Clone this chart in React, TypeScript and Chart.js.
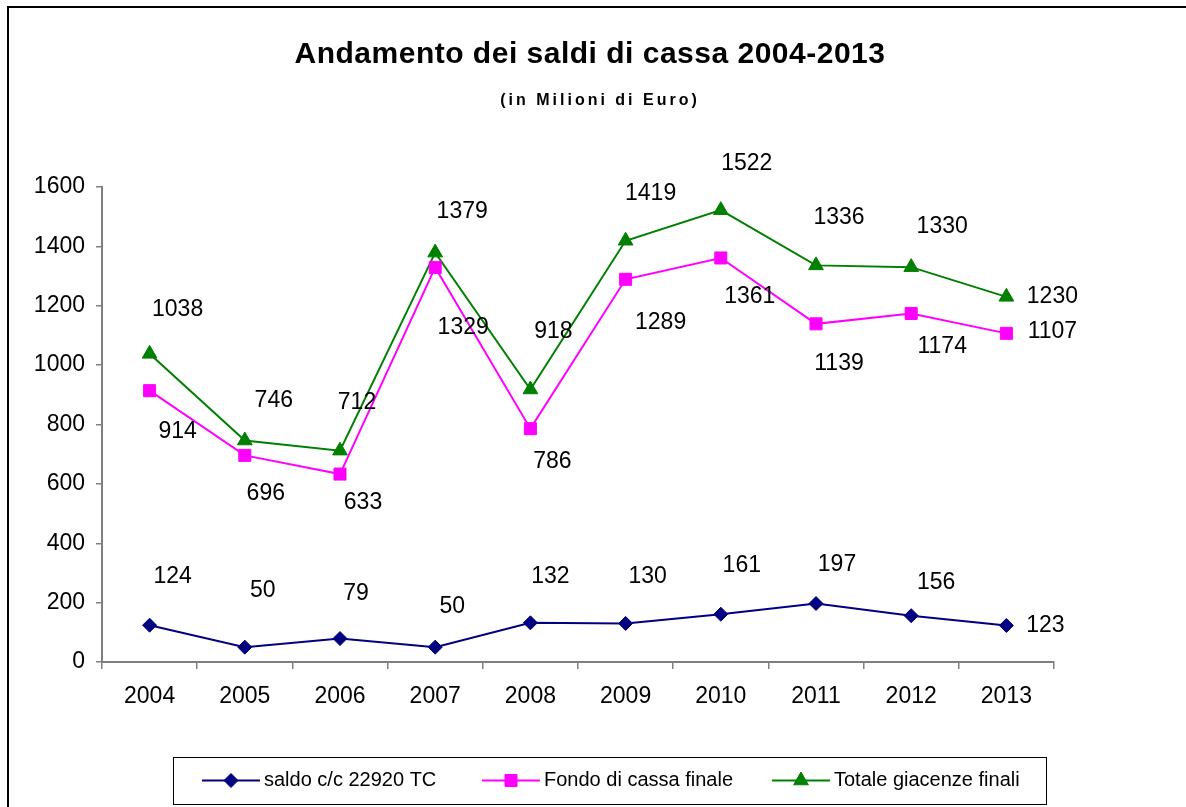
import React, { useEffect, useRef } from "react";
import { Chart, registerables } from "chart.js";

Chart.register(...registerables);

// ---------- data ----------
const years = ["2004", "2005", "2006", "2007", "2008", "2009", "2010", "2011", "2012", "2013"];
const saldoCC = [124, 50, 79, 50, 132, 130, 161, 197, 156, 123];
const fondoCassa = [914, 696, 633, 1329, 786, 1289, 1361, 1139, 1174, 1107];
const totaleGiacenze = [1038, 746, 712, 1379, 918, 1419, 1522, 1336, 1330, 1230];
const seriesNames = ["saldo c/c 22920 TC", "Fondo di cassa finale", "Totale giacenze finali"];
const yMin = 0;
const yMax = 1600;
const yStep = 200;

const titleText = "Andamento dei saldi di cassa 2004-2013";
const subtitleText = "(in Milioni di Euro)";

// ---------- styling ----------
const FONT = '"Liberation Sans", Arial, sans-serif';
const colors = ["#000080", "#FF00FF", "#008000"];
const pointStyles = ["rectRot", "rect", "triangle"];
const pointRadii = [7, 8.5, 8.5];

// label nudges in px (Excel-style manually placed data labels)
const saldoLabelShift = [[23, -49], [18, -57], [16, -45], [17, -41], [20, -46], [22, -47], [21, -49], [21, -39], [25, -33], [39, 0]];
const fondoLabelShift = [[28, 41], [21, 38], [23, 29], [28, 60], [22, 33], [35, 43], [29, 39], [23, 40], [31, 33], [46, -2]];
const totaleLabelShift = [[28, -44], [29, -40], [17, -48], [27, -41], [23, -58], [25, -47], [26, -47], [23, -48], [31, -41], [46, 0]];
const labelShifts = [saldoLabelShift, fondoLabelShift, totaleLabelShift];

const W = 1186;
const H = 807;

function drawMarker(ctx: CanvasRenderingContext2D, style: string, x: number, y: number, color: string) {
  ctx.save();
  ctx.fillStyle = color;
  ctx.strokeStyle = color;
  ctx.lineWidth = 1;
  ctx.beginPath();
  if (style === "rectRot") {
    const r = 7;
    ctx.moveTo(x, y - r);
    ctx.lineTo(x + r, y);
    ctx.lineTo(x, y + r);
    ctx.lineTo(x - r, y);
    ctx.closePath();
  } else if (style === "rect") {
    const s = 6;
    ctx.rect(x - s, y - s, 2 * s, 2 * s);
  } else {
    const r = 8.5;
    ctx.moveTo(x, y - r);
    ctx.lineTo(x + r * 0.866, y + r * 0.5);
    ctx.lineTo(x - r * 0.866, y + r * 0.5);
    ctx.closePath();
  }
  ctx.fill();
  ctx.stroke();
  ctx.restore();
}

const decorPlugin = {
  id: "decor",
  beforeDraw(chart: any) {
    const ctx: CanvasRenderingContext2D = chart.ctx;
    ctx.save();
    ctx.fillStyle = "#ffffff";
    ctx.fillRect(0, 0, chart.width, chart.height);
    // outer chart border (extends beyond the visible frame)
    ctx.strokeStyle = "#000000";
    ctx.lineWidth = 2;
    ctx.beginPath();
    ctx.moveTo(8, chart.height + 5);
    ctx.lineTo(8, 7);
    ctx.lineTo(chart.width + 5, 7);
    ctx.stroke();
    ctx.restore();
  },
  afterDraw(chart: any) {
    const ctx: CanvasRenderingContext2D = chart.ctx;
    ctx.save();
    // title
    ctx.fillStyle = "#000";
    ctx.textAlign = "center";
    ctx.textBaseline = "middle";
    ctx.font = `bold 30px ${FONT}`;
    (ctx as any).letterSpacing = "0.5px";
    ctx.fillText(titleText, 590, 55);
    ctx.font = `bold 16px ${FONT}`;
    (ctx as any).letterSpacing = "3px";
    ctx.fillText(subtitleText, 600, 101);
    (ctx as any).letterSpacing = "0px";

    // legend box
    const bx = 173, by = 757, bw = 873, bh = 47;
    ctx.strokeStyle = "#000";
    ctx.lineWidth = 1;
    ctx.strokeRect(bx + 0.5, by + 0.5, bw, bh);
    const itemX = [202, 482, 772];
    const cy = by + bh / 2;
    ctx.font = `20px ${FONT}`;
    ctx.textAlign = "left";
    ctx.textBaseline = "middle";
    chart.data.datasets.forEach((ds: any, i: number) => {
      const x0 = itemX[i];
      ctx.strokeStyle = colors[i];
      ctx.lineWidth = 2;
      ctx.beginPath();
      ctx.moveTo(x0, cy);
      ctx.lineTo(x0 + 58, cy);
      ctx.stroke();
      drawMarker(ctx, pointStyles[i], x0 + 29, cy, colors[i]);
      ctx.fillStyle = "#000";
      ctx.fillText(ds.label, x0 + 62, cy);
    });
    ctx.restore();
  },
  afterDatasetsDraw(chart: any) {
    const ctx: CanvasRenderingContext2D = chart.ctx;
    ctx.save();
    ctx.font = `23px ${FONT}`;
    ctx.fillStyle = "#000";
    ctx.textAlign = "center";
    ctx.textBaseline = "middle";
    chart.data.datasets.forEach((ds: any, i: number) => {
      const meta = chart.getDatasetMeta(i);
      meta.data.forEach((pt: any, j: number) => {
        const [dx, dy] = labelShifts[i][j];
        ctx.fillText(String(ds.data[j]), pt.x + dx, pt.y + dy);
      });
    });
    ctx.restore();
  },
};

export default function App() {
  const ref = useRef<HTMLCanvasElement | null>(null);

  useEffect(() => {
    if (!ref.current) return;
    const seriesData = [saldoCC, fondoCassa, totaleGiacenze];
    const chart = new Chart(ref.current, {
      type: "line",
      data: {
        labels: years,
        datasets: seriesData.map((d, i) => ({
          label: seriesNames[i],
          data: d,
          borderColor: colors[i],
          backgroundColor: colors[i],
          borderWidth: 2,
          pointStyle: pointStyles[i] as any,
          pointRadius: pointRadii[i],
          pointBorderWidth: 1,
          pointBorderColor: colors[i],
          pointBackgroundColor: colors[i],
          tension: 0,
          fill: false,
        })),
      },
      options: {
        responsive: false,
        animation: false,
        devicePixelRatio: 1,
        layout: { padding: { left: 8, right: 132, top: 187, bottom: 75 } },
        plugins: {
          legend: { display: false },
          tooltip: { enabled: false },
          title: { display: false },
        },
        scales: {
          x: {
            offset: true,
            grid: {
              offset: true,
              drawOnChartArea: false,
              drawTicks: true,
              tickLength: 7,
              color: "#808080",
              lineWidth: 1.5,
            },
            border: { display: true, color: "#808080", width: 2 },
            ticks: {
              color: "#000",
              font: { family: FONT, size: 23 },
              padding: 14,
              maxRotation: 0,
              autoSkip: false,
            },
            afterFit: (s: any) => {
              s.height = 70;
            },
          },
          y: {
            min: yMin,
            max: yMax,
            grid: {
              drawOnChartArea: false,
              drawTicks: true,
              tickLength: 6,
              color: "#808080",
              lineWidth: 1.5,
            },
            border: { display: true, color: "#808080", width: 2 },
            ticks: {
              stepSize: yStep,
              color: "#000",
              font: { family: FONT, size: 23 },
              padding: 11,
              callback: (v: any) => String(v),
            },
            afterFit: (s: any) => {
              s.width = 94;
            },
          },
        },
      },
      plugins: [decorPlugin],
    });
    return () => chart.destroy();
  }, []);

  return (
    <div style={{ position: "fixed", left: 0, top: 0, width: W, height: H, background: "#fff" }}>
      <canvas ref={ref} width={W} height={H} style={{ display: "block", width: W, height: H }} />
    </div>
  );
}
